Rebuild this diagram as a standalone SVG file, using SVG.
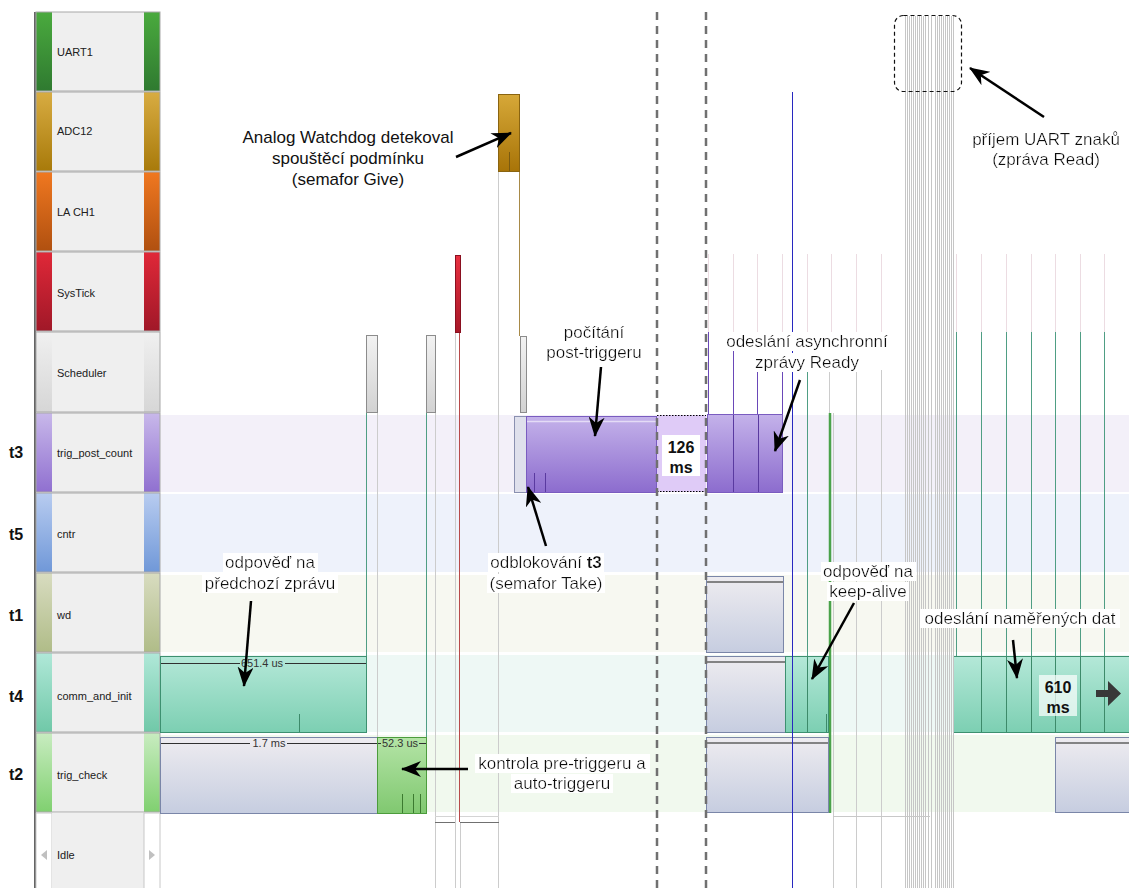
<svg xmlns="http://www.w3.org/2000/svg" width="1129" height="888" viewBox="0 0 1129 888">
<defs>
  <style>
    .lane { font-family: "Liberation Sans", Arial, sans-serif; font-size: 11px; fill: #202020; }
    .tid { font-family: "Liberation Sans", Arial, sans-serif; font-size: 16px; font-weight: bold; fill: #111; }
    .note { font-family: "Liberation Sans", Arial, sans-serif; font-size: 17px; fill: #111; text-anchor: middle; }
    .dur { font-family: "Liberation Sans", Arial, sans-serif; font-size: 16px; font-weight: bold; fill: #111; text-anchor: middle; }
    .meas { font-family: "Liberation Sans", Arial, sans-serif; font-size: 11px; fill: #333; text-anchor: middle; }
    .rowbox { fill: none; stroke: #a8a8a8; stroke-width: 1; }
    .mid { fill: #efefef; }
    .sched { fill: url(#gSchedBar); stroke: #8c8c8c; stroke-width: 1; }
    .idlebox { fill: url(#gIdle); stroke: #7a86a8; stroke-width: 1; }
    .idletop { stroke: #606060; stroke-width: 1.5; }
    .commblk { fill: url(#gComm); stroke: #3d9070; stroke-width: 1; }
    .checkblk { fill: url(#gCheck); stroke: #4c9c3c; stroke-width: 1; }
    .postblk { fill: url(#gPost); stroke: #7a5cc0; stroke-width: 1; }
    .vgray { stroke: #cccccc; stroke-width: 1; }
    .vpink { stroke: #ecdce2; stroke-width: 1; }
    .vgreen { stroke: #4f9e84; stroke-width: 1; }
    .vpurple { stroke: #6a48b8; stroke-width: 1; }
    .uart { stroke: #c6c6c6; stroke-width: 1; }
    .cut { stroke: #707070; stroke-width: 2.5; stroke-dasharray: 8 6; fill: none; }
    .arrow { stroke: #000; stroke-width: 2.5; fill: none; marker-end: url(#ah); }
    .mline { stroke: #303030; stroke-width: 1; }
  </style>
  <filter id="bgw" x="-0.02" y="0" width="1.04" height="1">
    <feFlood flood-color="#ffffff"/>
    <feComposite in="SourceGraphic"/>
  </filter>
  <marker id="ah" viewBox="0 0 20 16" refX="19" refY="8" markerWidth="20" markerHeight="16" markerUnits="userSpaceOnUse" orient="auto">
    <path d="M0,0 L20,8 L0,16 L6,8 z" fill="#000"/>
  </marker>
  <linearGradient id="gUart" x1="0" y1="0" x2="0" y2="1"><stop offset="0" stop-color="#4aaa3e"/><stop offset="1" stop-color="#2f7a30"/></linearGradient>
  <linearGradient id="gAdc" x1="0" y1="0" x2="0" y2="1"><stop offset="0" stop-color="#d8ac42"/><stop offset="1" stop-color="#a87a0a"/></linearGradient>
  <linearGradient id="gLa" x1="0" y1="0" x2="0" y2="1"><stop offset="0" stop-color="#f07820"/><stop offset="1" stop-color="#b05010"/></linearGradient>
  <linearGradient id="gSys" x1="0" y1="0" x2="0" y2="1"><stop offset="0" stop-color="#e02838"/><stop offset="1" stop-color="#a01828"/></linearGradient>
  <linearGradient id="gSched" x1="0" y1="0" x2="0" y2="1"><stop offset="0" stop-color="#f0f0f0"/><stop offset="1" stop-color="#d6d6d6"/></linearGradient>
  <linearGradient id="gTpc" x1="0" y1="0" x2="0" y2="1"><stop offset="0" stop-color="#c8b8ea"/><stop offset="1" stop-color="#9070d0"/></linearGradient>
  <linearGradient id="gCntr" x1="0" y1="0" x2="0" y2="1"><stop offset="0" stop-color="#b8ccf0"/><stop offset="1" stop-color="#7098d8"/></linearGradient>
  <linearGradient id="gWd" x1="0" y1="0" x2="0" y2="1"><stop offset="0" stop-color="#d8dcc0"/><stop offset="1" stop-color="#b0bc88"/></linearGradient>
  <linearGradient id="gCai" x1="0" y1="0" x2="0" y2="1"><stop offset="0" stop-color="#b0e8d8"/><stop offset="1" stop-color="#70c8a8"/></linearGradient>
  <linearGradient id="gTc" x1="0" y1="0" x2="0" y2="1"><stop offset="0" stop-color="#c8ecc0"/><stop offset="1" stop-color="#80d070"/></linearGradient>
  <linearGradient id="gSchedBar" x1="0" y1="0" x2="0" y2="1"><stop offset="0" stop-color="#f2f2f2"/><stop offset="1" stop-color="#d2d2d2"/></linearGradient>
  <linearGradient id="gIdle" x1="0" y1="0" x2="0" y2="1"><stop offset="0" stop-color="#eeecf0"/><stop offset="1" stop-color="#c6cde0"/></linearGradient>
  <linearGradient id="gComm" x1="0" y1="0" x2="0" y2="1"><stop offset="0" stop-color="#b4e8d8"/><stop offset="1" stop-color="#7ccfb2"/></linearGradient>
  <linearGradient id="gCheck" x1="0" y1="0" x2="0" y2="1"><stop offset="0" stop-color="#b4e4a6"/><stop offset="1" stop-color="#80c870"/></linearGradient>
  <linearGradient id="gPost" x1="0" y1="0" x2="0" y2="1"><stop offset="0" stop-color="#c4b2ea"/><stop offset="1" stop-color="#8c6cce"/></linearGradient>
  <linearGradient id="gAdcBar" x1="0" y1="0" x2="0" y2="1"><stop offset="0" stop-color="#d6a838"/><stop offset="1" stop-color="#a87408"/></linearGradient>
  <linearGradient id="gSysBar" x1="0" y1="0" x2="0" y2="1"><stop offset="0" stop-color="#e83040"/><stop offset="1" stop-color="#a81828"/></linearGradient>
</defs>

<rect x="0" y="0" width="1129" height="888" fill="#ffffff"/>

<!-- lane background bands -->
<g id="bands">
  <rect x="160" y="415" width="969" height="77" fill="#f3f0f9"/>
  <rect x="160" y="494" width="969" height="78" fill="#eef2fb"/>
  <rect x="160" y="575" width="969" height="77" fill="#f7f8f1"/>
  <rect x="160" y="655" width="969" height="77" fill="#eef8f5"/>
  <rect x="160" y="735" width="969" height="77" fill="#f1f9ee"/>
</g>

<!-- lane header column -->
<g id="lane-headers">
  <line x1="35" y1="12" x2="35" y2="888" stroke="#303030" stroke-width="1.5"/>
  <g id="lane-uart1">
    <rect x="36" y="12" width="16" height="79" fill="url(#gUart)"/><rect class="mid" x="52" y="12" width="92" height="79"/><rect x="144" y="12" width="16" height="79" fill="url(#gUart)"/>
    <rect class="rowbox" x="36" y="12" width="124" height="79"/><text class="lane" x="57" y="56">UART1</text>
  </g>
  <g id="lane-adc12">
    <rect x="36" y="92" width="16" height="79" fill="url(#gAdc)"/><rect class="mid" x="52" y="92" width="92" height="79"/><rect x="144" y="92" width="16" height="79" fill="url(#gAdc)"/>
    <rect class="rowbox" x="36" y="92" width="124" height="79"/><text class="lane" x="57" y="135">ADC12</text>
  </g>
  <g id="lane-lach1">
    <rect x="36" y="172" width="16" height="79" fill="url(#gLa)"/><rect class="mid" x="52" y="172" width="92" height="79"/><rect x="144" y="172" width="16" height="79" fill="url(#gLa)"/>
    <rect class="rowbox" x="36" y="172" width="124" height="79"/><text class="lane" x="57" y="216">LA CH1</text>
  </g>
  <g id="lane-systick">
    <rect x="36" y="252" width="16" height="79" fill="url(#gSys)"/><rect class="mid" x="52" y="252" width="92" height="79"/><rect x="144" y="252" width="16" height="79" fill="url(#gSys)"/>
    <rect class="rowbox" x="36" y="252" width="124" height="79"/><text class="lane" x="57" y="297">SysTick</text>
  </g>
  <g id="lane-scheduler">
    <rect x="36" y="332" width="16" height="80" fill="url(#gSched)"/><rect class="mid" x="52" y="332" width="92" height="80"/><rect x="144" y="332" width="16" height="80" fill="url(#gSched)"/>
    <rect class="rowbox" x="36" y="332" width="124" height="80"/><text class="lane" x="57" y="377">Scheduler</text>
  </g>
  <g id="lane-trig-post-count">
    <rect x="36" y="413" width="16" height="79" fill="url(#gTpc)"/><rect class="mid" x="52" y="413" width="92" height="79"/><rect x="144" y="413" width="16" height="79" fill="url(#gTpc)"/>
    <rect class="rowbox" x="36" y="413" width="124" height="79"/><text class="lane" x="57" y="457">trig_post_count</text>
    <text class="tid" x="9" y="458">t3</text>
  </g>
  <g id="lane-cntr">
    <rect x="36" y="493" width="16" height="79" fill="url(#gCntr)"/><rect class="mid" x="52" y="493" width="92" height="79"/><rect x="144" y="493" width="16" height="79" fill="url(#gCntr)"/>
    <rect class="rowbox" x="36" y="493" width="124" height="79"/><text class="lane" x="57" y="538">cntr</text>
    <text class="tid" x="9" y="540">t5</text>
  </g>
  <g id="lane-wd">
    <rect x="36" y="573" width="16" height="79" fill="url(#gWd)"/><rect class="mid" x="52" y="573" width="92" height="79"/><rect x="144" y="573" width="16" height="79" fill="url(#gWd)"/>
    <rect class="rowbox" x="36" y="573" width="124" height="79"/><text class="lane" x="57" y="619">wd</text>
    <text class="tid" x="9" y="621">t1</text>
  </g>
  <g id="lane-comm-and-init">
    <rect x="36" y="653" width="16" height="79" fill="url(#gCai)"/><rect class="mid" x="52" y="653" width="92" height="79"/><rect x="144" y="653" width="16" height="79" fill="url(#gCai)"/>
    <rect class="rowbox" x="36" y="653" width="124" height="79"/><text class="lane" x="57" y="700">comm_and_init</text>
    <text class="tid" x="9" y="702">t4</text>
  </g>
  <g id="lane-trig-check">
    <rect x="36" y="733" width="16" height="79" fill="url(#gTc)"/><rect class="mid" x="52" y="733" width="92" height="79"/><rect x="144" y="733" width="16" height="79" fill="url(#gTc)"/>
    <rect class="rowbox" x="36" y="733" width="124" height="79"/><text class="lane" x="57" y="779">trig_check</text>
    <text class="tid" x="9" y="780">t2</text>
  </g>
  <g id="lane-idle">
    <rect x="36" y="813" width="16" height="80" fill="#ffffff" stroke="#c8c8c8"/><rect class="mid" x="52" y="813" width="92" height="80"/><rect x="144" y="813" width="16" height="80" fill="#ffffff" stroke="#c8c8c8"/>
    <path d="M47,850 L41,855 L47,860 z" fill="#c0c0c0"/><path d="M149,850 L155,855 L149,860 z" fill="#c0c0c0"/>
    <text class="lane" x="57" y="859">Idle</text>
  </g>
</g>

<!-- trace lines -->
<g id="trace-lines">
  <!-- left part -->
  <line class="vgreen" x1="366.5" y1="412" x2="366.5" y2="656"/>
  <line class="vgray" x1="377.5" y1="412" x2="377.5" y2="737"/>
  <line class="vgreen" x1="426.5" y1="412" x2="426.5" y2="737"/>
  <line class="vgray" x1="435.5" y1="412" x2="435.5" y2="888"/>
  <line class="vgray" x1="455.5" y1="332" x2="455.5" y2="888"/>
  <line x1="459.5" y1="332" x2="459.5" y2="822" stroke="#b84a4a" stroke-width="1"/>
  <line class="vgray" x1="460.5" y1="822" x2="460.5" y2="888"/>
  <line class="vgray" x1="498.5" y1="172" x2="498.5" y2="888"/>
  <line x1="519.5" y1="172" x2="519.5" y2="336" stroke="#a88a48" stroke-width="1"/>
  <line x1="435" y1="816.5" x2="455" y2="816.5" stroke="#d4d4d4"/>
  <line x1="435" y1="822.5" x2="455" y2="822.5" stroke="#707070"/>
  <line x1="460" y1="816.5" x2="499" y2="816.5" stroke="#d4d4d4"/>
  <line x1="460" y1="822.5" x2="499" y2="822.5" stroke="#707070"/>

  <!-- periodic SysTick marks -->
  <g class="vpink">
    <line x1="708.5" y1="254" x2="708.5" y2="332"/><line x1="733.5" y1="254" x2="733.5" y2="332"/>
    <line x1="757.5" y1="254" x2="757.5" y2="332"/><line x1="782.5" y1="254" x2="782.5" y2="332"/>
    <line x1="807.5" y1="254" x2="807.5" y2="332"/><line x1="831.5" y1="254" x2="831.5" y2="332"/>
    <line x1="856.5" y1="254" x2="856.5" y2="332"/><line x1="881.5" y1="254" x2="881.5" y2="332"/>
    <line x1="956.5" y1="254" x2="956.5" y2="332"/><line x1="981.5" y1="254" x2="981.5" y2="332"/>
    <line x1="1006.5" y1="254" x2="1006.5" y2="332"/><line x1="1031.5" y1="254" x2="1031.5" y2="332"/>
    <line x1="1055.5" y1="254" x2="1055.5" y2="332"/><line x1="1080.5" y1="254" x2="1080.5" y2="332"/>
    <line x1="1104.5" y1="254" x2="1104.5" y2="332"/>
  </g>
  <g class="vpurple">
    <line x1="708.5" y1="332" x2="708.5" y2="415"/><line x1="733.5" y1="350" x2="733.5" y2="415"/>
    <line x1="757.5" y1="370" x2="757.5" y2="415"/><line x1="782.5" y1="370" x2="782.5" y2="415"/>
  </g>
  <line class="vgreen" x1="807.5" y1="370" x2="807.5" y2="733"/>
  <line class="vgray" x1="829.5" y1="370" x2="829.5" y2="413"/>
  <line x1="830" y1="413" x2="830" y2="813" stroke="#4aa24a" stroke-width="2.5"/>
  <line class="vgray" x1="833.5" y1="413" x2="833.5" y2="888"/>
  <line class="vgray" x1="856.5" y1="370" x2="856.5" y2="888"/>
  <line class="vgray" x1="881.5" y1="370" x2="881.5" y2="888"/>
  <line x1="833" y1="816.5" x2="930" y2="816.5" stroke="#c8c8c8"/>
  <g class="vgreen">
    <line x1="956.5" y1="332" x2="956.5" y2="656"/><line x1="981.5" y1="332" x2="981.5" y2="656"/>
    <line x1="1006.5" y1="332" x2="1006.5" y2="656"/><line x1="1031.5" y1="332" x2="1031.5" y2="656"/>
    <line x1="1055.5" y1="332" x2="1055.5" y2="656"/><line x1="1080.5" y1="332" x2="1080.5" y2="656"/>
    <line x1="1104.5" y1="332" x2="1104.5" y2="656"/>
  </g>
</g>

<!-- task blocks -->
<g id="blocks">
  <!-- ADC12 interrupt -->
  <g id="adc-irq">
    <rect x="498.5" y="94.5" width="21" height="77" fill="url(#gAdcBar)" stroke="#8a6410"/>
    <line x1="509.5" y1="152" x2="509.5" y2="171" stroke="#7a5a10"/>
  </g>
  <!-- SysTick interrupt -->
  <rect id="systick-irq" x="455.5" y="255.5" width="5" height="77" fill="url(#gSysBar)" stroke="#8a1020"/>
  <!-- scheduler runs -->
  <g id="scheduler-runs">
    <rect class="sched" x="366.5" y="335.5" width="11" height="77"/>
    <rect class="sched" x="426.5" y="335.5" width="9" height="77"/>
    <rect class="sched" x="520.5" y="336.5" width="6" height="76"/>
  </g>
  <!-- trig_post_count -->
  <g id="post-count-run">
    <rect x="514.5" y="416.5" width="12" height="76" fill="#dfe0ec" stroke="#8a90b0"/>
    <rect class="postblk" x="526.5" y="416.5" width="130" height="76"/>
    <line x1="527" y1="421.5" x2="656" y2="421.5" stroke="#e4dcf6" stroke-width="1.5"/>
    <line x1="534.5" y1="473" x2="534.5" y2="492" stroke="#5a3aa0"/>
    <line x1="545.5" y1="473" x2="545.5" y2="492" stroke="#5a3aa0"/>
  </g>
  <g id="post-count-gap">
    <rect x="657" y="415" width="49" height="77" fill="#dfcbf7"/>
    <line x1="657" y1="415.5" x2="706" y2="415.5" stroke="#000" stroke-width="1" stroke-dasharray="1.5 1.5"/>
    <line x1="657" y1="491.5" x2="706" y2="491.5" stroke="#000" stroke-width="1" stroke-dasharray="1.5 1.5"/>
    <rect x="662" y="435" width="38" height="41" fill="#ffffff"/>
    <text class="dur" x="681" y="453">126</text>
    <text class="dur" x="681" y="473">ms</text>
  </g>
  <g id="post-count-ready">
    <rect class="postblk" x="707.5" y="414.5" width="75" height="78"/>
    <line x1="733.5" y1="415" x2="733.5" y2="492" stroke="#5a3aa0"/>
    <line x1="758.5" y1="415" x2="758.5" y2="492" stroke="#5a3aa0"/>
  </g>
  <!-- wd -->
  <g id="wd-run">
    <rect class="idlebox" x="706.5" y="576.5" width="77" height="76"/>
    <line class="idletop" x1="707" y1="582" x2="783" y2="582"/>
  </g>
  <!-- comm_and_init -->
  <g id="comm-left">
    <rect class="commblk" x="160.5" y="656.5" width="206" height="76"/>
    <line class="mline" x1="161" y1="663.5" x2="240" y2="663.5"/>
    <line class="mline" x1="285" y1="663.5" x2="366" y2="663.5"/>
    <text class="meas" x="262" y="667">651.4 us</text>
    <line x1="299.5" y1="714" x2="299.5" y2="732" stroke="#3d8a6a"/>
  </g>
  <g id="comm-mid">
    <rect class="idlebox" x="706.5" y="656.5" width="79" height="76"/>
    <line class="idletop" x1="707" y1="662" x2="785" y2="662"/>
    <rect class="commblk" x="785.5" y="656.5" width="43" height="76"/>
    <line x1="807.5" y1="657" x2="807.5" y2="732" stroke="#3d8a6a"/>
    <line x1="826.5" y1="714" x2="826.5" y2="732" stroke="#3d8a6a"/>
  </g>
  <g id="comm-right">
    <rect class="commblk" x="953.5" y="656.5" width="180" height="76"/>
    <g stroke="#3d8a6a" stroke-width="1">
      <line x1="981.5" y1="657" x2="981.5" y2="732"/><line x1="1006.5" y1="657" x2="1006.5" y2="732"/>
      <line x1="1031.5" y1="657" x2="1031.5" y2="732"/><line x1="1055.5" y1="657" x2="1055.5" y2="732"/>
      <line x1="1080.5" y1="657" x2="1080.5" y2="732"/><line x1="1104.5" y1="657" x2="1104.5" y2="732"/>
    </g>
    <rect x="1039" y="675" width="38" height="41" fill="#ffffff" fill-opacity="0.7"/>
    <text class="dur" x="1058" y="693">610</text>
    <text class="dur" x="1058" y="713">ms</text>
    <path d="M1096,690 H1108 V681 L1121,693.5 L1108,706 V697 H1096 Z" fill="#383838"/>
  </g>
  <!-- trig_check -->
  <g id="check-left">
    <rect class="idlebox" x="160.5" y="737.5" width="217" height="76"/>
    <line class="mline" x1="161" y1="743.5" x2="250" y2="743.5"/>
    <line class="mline" x1="287" y1="743.5" x2="377" y2="743.5"/>
    <text class="meas" x="269" y="747">1.7 ms</text>
    <rect class="checkblk" x="377.5" y="737.5" width="49" height="76"/>
    <line class="mline" x1="378" y1="743.5" x2="381" y2="743.5"/>
    <line class="mline" x1="419" y1="743.5" x2="426" y2="743.5"/>
    <text class="meas" x="400" y="747">52.3 us</text>
    <g stroke="#3c7a30"><line x1="402.5" y1="794" x2="402.5" y2="813"/><line x1="413.5" y1="794" x2="413.5" y2="813"/><line x1="420.5" y1="794" x2="420.5" y2="813"/></g>
  </g>
  <g id="check-mid">
    <rect class="idlebox" x="706.5" y="737.5" width="122" height="75"/>
    <line class="idletop" x1="707" y1="743" x2="828" y2="743"/>
  </g>
  <g id="check-right">
    <rect class="idlebox" x="1055.5" y="737.5" width="80" height="75"/>
    <line class="idletop" x1="1056" y1="743" x2="1129" y2="743"/>
  </g>
</g>

<!-- UART character bursts -->
<g id="uart-burst" class="uart">
  <line x1="905.5" y1="16" x2="905.5" y2="888"/><line x1="907.5" y1="16" x2="907.5" y2="888"/>
  <line x1="909.5" y1="16" x2="909.5" y2="888"/><line x1="911.5" y1="16" x2="911.5" y2="888"/>
  <line x1="913.5" y1="16" x2="913.5" y2="888"/><line x1="915.5" y1="16" x2="915.5" y2="888"/>
  <line x1="917.5" y1="16" x2="917.5" y2="888"/><line x1="919.5" y1="16" x2="919.5" y2="888"/>
  <line x1="921.5" y1="16" x2="921.5" y2="888"/><line x1="923.5" y1="16" x2="923.5" y2="888"/>
  <line x1="925.5" y1="16" x2="925.5" y2="888"/><line x1="928.5" y1="16" x2="928.5" y2="888"/>
  <line x1="931.5" y1="16" x2="931.5" y2="888"/><line x1="935.5" y1="16" x2="935.5" y2="888"/>
  <line x1="937.5" y1="16" x2="937.5" y2="888"/><line x1="939.5" y1="16" x2="939.5" y2="888"/>
  <line x1="941.5" y1="16" x2="941.5" y2="888"/><line x1="943.5" y1="16" x2="943.5" y2="888"/>
  <line x1="945.5" y1="16" x2="945.5" y2="888"/><line x1="947.5" y1="16" x2="947.5" y2="888"/>
  <line x1="949.5" y1="16" x2="949.5" y2="888"/><line x1="951.5" y1="16" x2="951.5" y2="888"/>
  <line x1="953.5" y1="16" x2="953.5" y2="888"/>
</g>
<rect id="uart-frame" x="894.5" y="15.5" width="67" height="76" rx="9" fill="none" stroke="#111" stroke-width="1.2" stroke-dasharray="4 3"/>

<!-- time cut between the two dashed lines -->
<line x1="792.5" y1="92" x2="792.5" y2="888" stroke="#2828c0" stroke-width="1"/>
<line class="cut" x1="657" y1="12" x2="657" y2="888"/>
<line class="cut" x1="706" y1="12" x2="706" y2="888"/>

<!-- annotations -->
<g id="note-watchdog">
  <text class="note" x="348" y="143">Analog Watchdog detekoval</text>
  <text class="note" x="348" y="164">spouštěcí podmínku</text>
  <text class="note" x="348" y="185">(semafor Give)</text>
</g>
<g id="note-post-count">
  <text class="note" x="594" y="338" filter="url(#bgw)">počítání</text>
  <text class="note" x="594" y="358" filter="url(#bgw)">post-triggeru</text>
</g>
<g id="note-ready">
  <text class="note" x="807" y="347" filter="url(#bgw)">odeslání asynchronní</text>
  <text class="note" x="807" y="368" filter="url(#bgw)">zprávy Ready</text>
</g>
<g id="note-uart">
  <text class="note" x="1046" y="145" filter="url(#bgw)">příjem UART znaků</text>
  <text class="note" x="1046" y="165" filter="url(#bgw)">(zpráva Read)</text>
</g>
<g id="note-prev-reply">
  <text class="note" x="270" y="568" filter="url(#bgw)">odpověď na</text>
  <text class="note" x="270" y="589" filter="url(#bgw)">předchozí zprávu</text>
</g>
<g id="note-unblock">
  <text class="note" x="546" y="568" filter="url(#bgw)">odblokování <tspan font-weight="bold">t3</tspan></text>
  <text class="note" x="546" y="589" filter="url(#bgw)">(semafor Take)</text>
</g>
<g id="note-keepalive">
  <text class="note" x="868" y="577" filter="url(#bgw)">odpověď na</text>
  <text class="note" x="868" y="597" filter="url(#bgw)">keep-alive</text>
</g>
<g id="note-data">
  <text class="note" x="1020" y="624" filter="url(#bgw)">odeslání naměřených dat</text>
</g>
<g id="note-check">
  <text class="note" x="562" y="769" filter="url(#bgw)">kontrola pre-triggeru a</text>
  <text class="note" x="562" y="789" filter="url(#bgw)">auto-triggeru</text>
</g>

<!-- pointer arrows -->
<g id="connectors">
  <line class="arrow" x1="456" y1="157" x2="511" y2="133"/>
  <line class="arrow" x1="601" y1="367" x2="595" y2="436"/>
  <line class="arrow" x1="800" y1="380" x2="775" y2="451"/>
  <line class="arrow" x1="1044" y1="117" x2="970" y2="68"/>
  <line class="arrow" x1="251" y1="601" x2="244" y2="686"/>
  <line class="arrow" x1="546" y1="546" x2="528" y2="487"/>
  <line class="arrow" x1="854" y1="603" x2="812" y2="679"/>
  <line class="arrow" x1="1013" y1="640" x2="1017" y2="678"/>
  <line class="arrow" x1="468" y1="769" x2="402" y2="769"/>
</g>
</svg>
